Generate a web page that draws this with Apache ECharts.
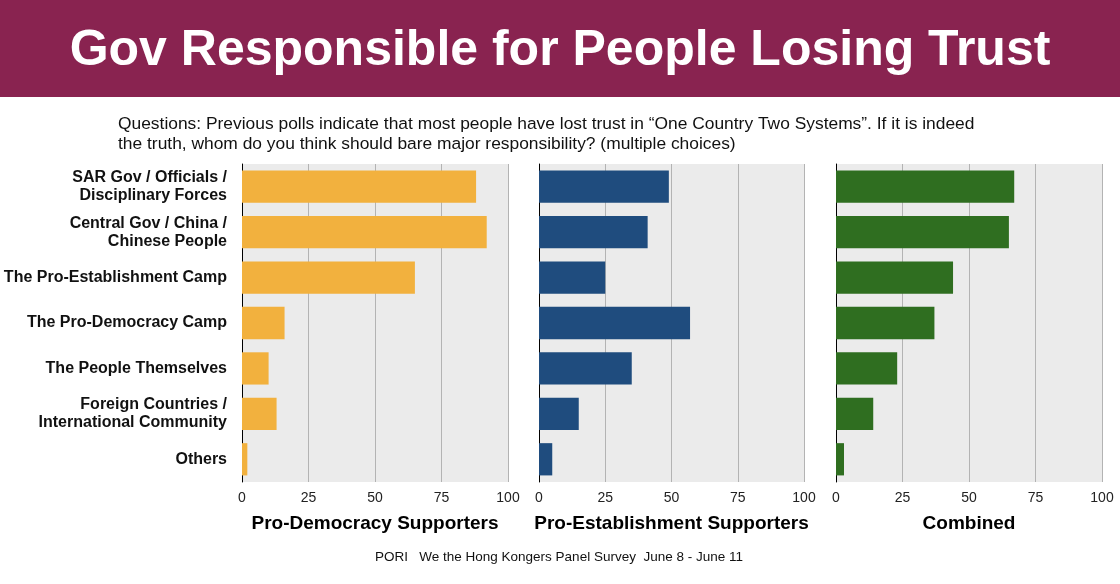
<!DOCTYPE html>
<html>
<head>
<meta charset="utf-8">
<script src="https://cdn.jsdelivr.net/npm/echarts@6/dist/echarts.min.js"></script>
<style>
html,body{margin:0;padding:0;background:#fff;}
#chart{width:1120px;height:584px;}
</style>
</head>
<body>
<div id="chart"></div>
<script>
var categories = [
  'SAR Gov / Officials /\nDisciplinary Forces',
  'Central Gov / China /\nChinese People',
  'The Pro-Establishment Camp',
  'The Pro-Democracy Camp',
  'The People Themselves',
  'Foreign Countries /\nInternational Community',
  'Others'
];
var panelNames = ['Pro-Democracy Supporters', 'Pro-Establishment Supporters', 'Combined'];
var proDemocracy = [88, 92, 65, 16, 10, 13, 2];
var proEstablishment = [49, 41, 25, 57, 35, 15, 5];
var combined = [67, 65, 44, 37, 23, 14, 3];
var barColors = ['#F2B13E', '#1F4C7E', '#2F6E20'];
var tickValues = [0, 25, 50, 75, 100];

var titleText = 'Gov Responsible for People Losing Trust';
var subtitleText = 'Questions: Previous polls indicate that most people have lost trust in \u201cOne Country Two Systems\u201d. If it is indeed\nthe truth, whom do you think should bare major responsibility? (multiple choices)';
var footerText = 'PORI   We the Hong Kongers Panel Survey  June 8 - June 11';

var FONT = '"Liberation Sans", Arial, Helvetica, sans-serif';
var seriesData = [proDemocracy, proEstablishment, combined];
var lefts = [242, 539, 836];
var widths = [266, 265, 266];

var grids = [], xAxes = [], yAxes = [], series = [];
for (var i = 0; i < 3; i++) {
  grids.push({
    left: lefts[i], width: widths[i], top: 164, height: 318,
    show: true, backgroundColor: '#ebebeb', borderWidth: 0, containLabel: false
  });
  xAxes.push({
    type: 'value', gridIndex: i, min: tickValues[0], max: tickValues[tickValues.length - 1], interval: 25,
    name: panelNames[i], nameLocation: 'middle', nameGap: 32,
    nameTextStyle: { fontFamily: FONT, fontWeight: 'bold', fontSize: 19, color: '#000' },
    axisLine: { show: false }, axisTick: { show: false },
    axisLabel: { fontFamily: FONT, fontSize: 14, color: '#222', margin: 9 },
    splitLine: { show: true, lineStyle: { color: '#b3b3b3', width: 1 } }
  });
  yAxes.push({
    type: 'category', gridIndex: i, data: categories, inverse: true,
    axisLine: { show: true, lineStyle: { color: '#000', width: 1 } },
    axisTick: { show: false },
    axisLabel: {
      show: i === 0, fontFamily: FONT, fontWeight: 'bold', fontSize: 16, color: '#111',
      lineHeight: 18, margin: 15, align: 'right', padding: [4, 0, 0, 0]
    },
    splitLine: { show: false }
  });
  series.push({
    type: 'bar', xAxisIndex: i, yAxisIndex: i, data: seriesData[i],
    barWidth: '71%', itemStyle: { color: barColors[i] }, silent: true, animation: false
  });
}

var chart = echarts.init(document.getElementById('chart'), null, { renderer: 'canvas' });
chart.setOption({
  animation: false,
  backgroundColor: '#fff',
  grid: grids, xAxis: xAxes, yAxis: yAxes, series: series,
  graphic: [
    { type: 'rect', left: 0, top: 0, shape: { width: 1120, height: 97 }, style: { fill: '#892350' }, z: -1 },
    { type: 'text', x: 560, y: 51, style: { text: titleText, fill: '#fff', font: 'bold 50px ' + FONT, textAlign: 'center', textVerticalAlign: 'middle' } },
    { type: 'text', x: 118, y: 114, style: { text: subtitleText, fill: '#111', font: '17.4px ' + FONT, lineHeight: 20, textAlign: 'left', textVerticalAlign: 'top' } },
    { type: 'text', x: 559, y: 557, style: { text: footerText, fill: '#111', font: '13.5px ' + FONT, textAlign: 'center', textVerticalAlign: 'middle' } }
  ]
});
</script>
</body>
</html>
